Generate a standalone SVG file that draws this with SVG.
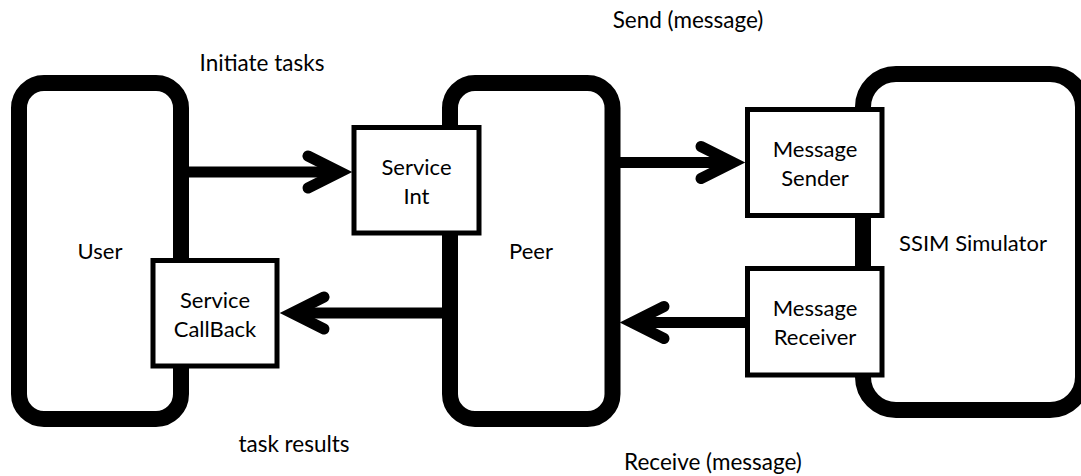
<svg xmlns="http://www.w3.org/2000/svg" width="1081" height="476" viewBox="0 0 1081 476">
  <style>
    .big { fill: #ffffff; stroke: #000000; stroke-width: 16; }
    .small { fill: #ffffff; stroke: #000000; stroke-width: 5; }
    .conn { fill: none; stroke: #000000; stroke-width: 11; }
    text { font-family: Lato, "Open Sans", "Liberation Sans", sans-serif; font-size: 22px; fill: #000000; text-anchor: middle; }
    .lbl { font-size: 22.5px; }
  </style>
  <defs>
    <marker id="open" viewBox="-45 -25 62 50" markerWidth="62" markerHeight="50" refX="0" refY="0" orient="auto" markerUnits="userSpaceOnUse">
      <path d="M-32,-16 L0,0 L-32,16" fill="none" stroke="#000000" stroke-width="11" stroke-linecap="round" stroke-linejoin="miter" stroke-miterlimit="10"/>
    </marker>
  </defs>
  <rect width="1081" height="476" fill="#ffffff"/>

  <g id="user">
    <rect class="big" x="19" y="83" width="162" height="336" rx="25" ry="25"/>
    <text x="100" y="259">User</text>
  </g>
  <g id="peer">
    <rect class="big" x="450" y="83" width="162.5" height="336" rx="25" ry="25"/>
    <text x="531" y="259">Peer</text>
  </g>
  <g id="ssim-simulator">
    <rect class="big" x="863" y="74" width="220" height="336" rx="33" ry="33"/>
    <text x="973" y="251">SSIM Simulator</text>
  </g>

  <g id="connectors">
    <line class="conn" x1="181" y1="172" x2="340" y2="172" marker-end="url(#open)"/>
    <line class="conn" x1="442" y1="313" x2="292" y2="313" marker-end="url(#open)"/>
    <line class="conn" x1="612" y1="162.5" x2="733" y2="162.5" marker-end="url(#open)"/>
    <line class="conn" x1="748" y1="322.5" x2="632" y2="322.5" marker-end="url(#open)"/>
  </g>

  <g id="service-int">
    <rect class="small" x="354" y="127.5" width="125" height="105.5"/>
    <text x="416.5" y="175">Service</text>
    <text x="416.5" y="203.5">Int</text>
  </g>
  <g id="service-callback">
    <rect class="small" x="153" y="260.5" width="124" height="105.5"/>
    <text x="215" y="307.5">Service</text>
    <text x="215" y="336.5">CallBack</text>
  </g>
  <g id="message-sender">
    <rect class="small" x="747.5" y="109.5" width="134.5" height="106"/>
    <text x="815" y="156.5">Message</text>
    <text x="815" y="186">Sender</text>
  </g>
  <g id="message-receiver">
    <rect class="small" x="747.5" y="268.5" width="134.5" height="106.5"/>
    <text x="815" y="316">Message</text>
    <text x="815" y="345">Receiver</text>
  </g>

  <g id="labels">
    <text class="lbl" x="688" y="28">Send (message)</text>
    <text class="lbl" x="262" y="71">Initiate tasks</text>
    <text class="lbl" x="294" y="451.5">task results</text>
    <text class="lbl" x="713" y="470">Receive (message)</text>
  </g>
</svg>
